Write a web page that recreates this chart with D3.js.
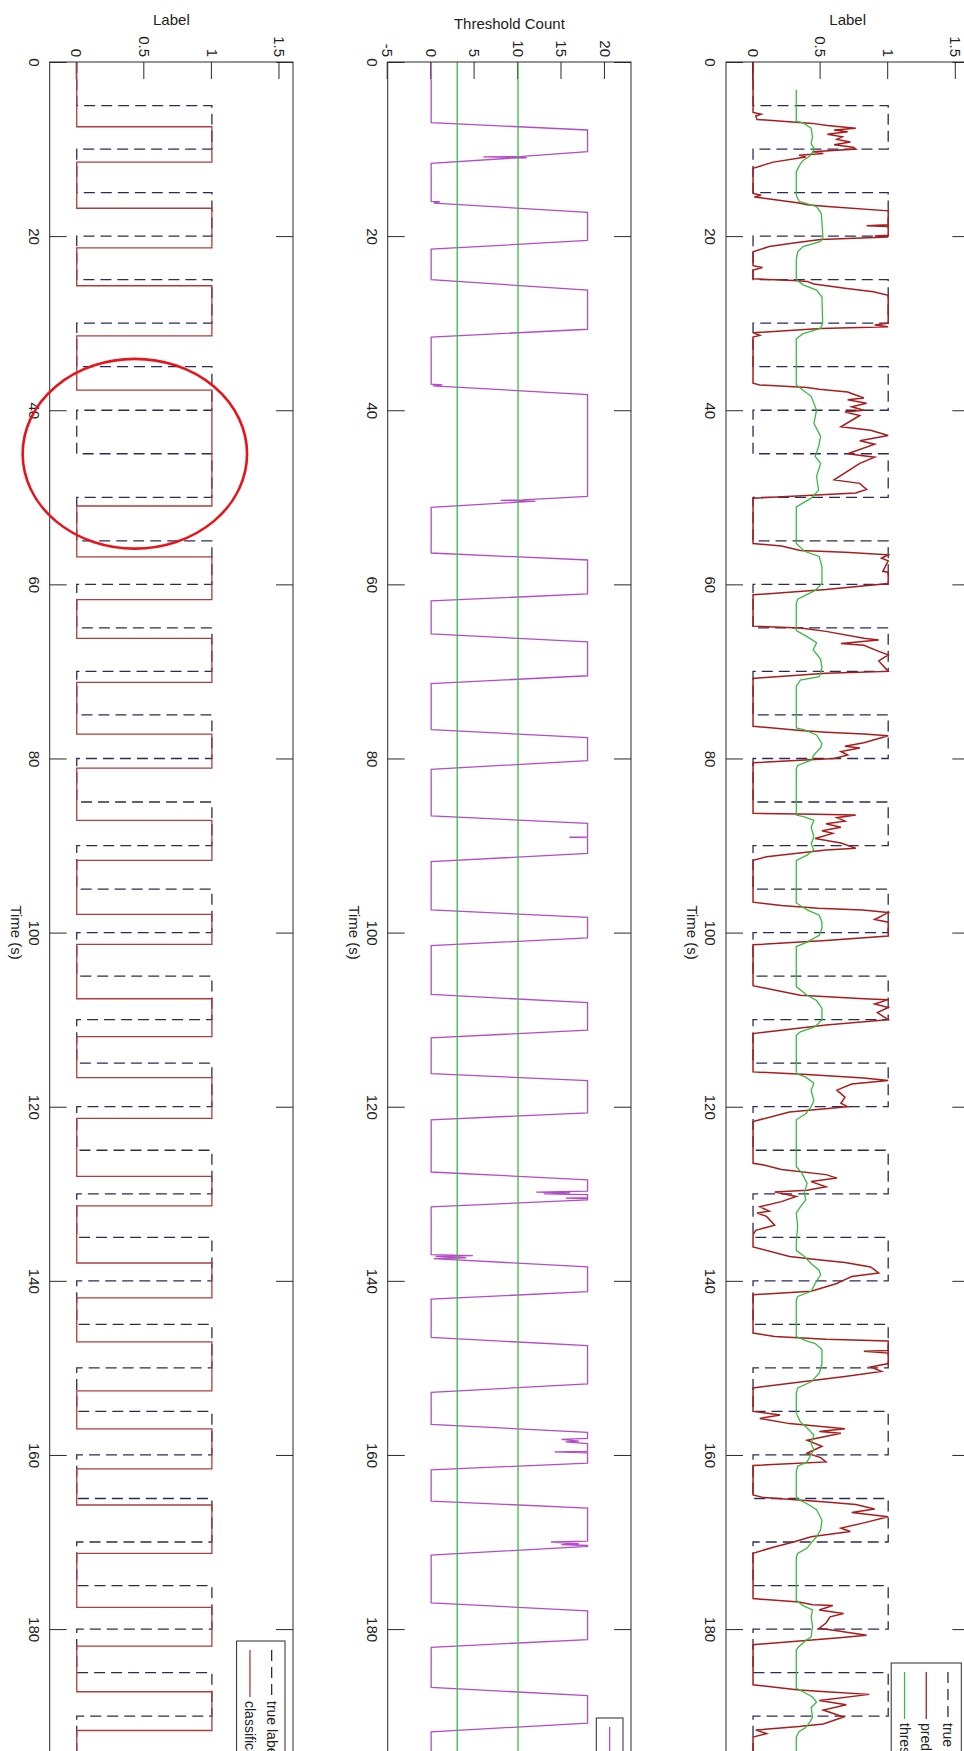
<!DOCTYPE html>
<meta charset="utf-8">
<title>Label / Threshold Count</title>
<style>
    body { margin: 0; background: #fff; }
    svg { display: block; font-family: "Liberation Sans", Arial, Helvetica, sans-serif; }
    .box { fill: none; stroke: #2a2a2a; stroke-width: 1px; }
    .tick line { stroke: #2a2a2a; }
    .tick text, .lab { fill: #222; font-size: 15px; }
</style>
<body>
<script src="https://cdn.jsdelivr.net/npm/d3@7"></script>
<script>
    // time axis
    const timeDomain = [0, 200];
    const timeTicks = [0, 20, 40, 60, 80, 100, 120, 140, 160, 180, 200];
    const labelTicks = [0, 0.5, 1, 1.5];
    const countTicks = [-5, 0, 5, 10, 15, 20];
    const countThresholds = [3, 10];

    // [time, value]
    const trueLabel = [[0,0],[5,1],[10,0],[15,1],[20,0],[25,1],[30,0],[35,1],[40,0],[45,1],[50,0],[55,1],[60,0],[65,1],[70,0],[75,1],[80,0],[85,1],[90,0],[95,1],[100,0],[105,1],[110,0],[115,1],[120,0],[125,1],[130,0],[135,1],[140,0],[145,1],[150,0],[155,1],[160,0],[165,1],[170,0],[175,1],[180,0],[185,1],[190,0],[195,1],[200,1]];

    const classification = [[0,0],[7.44,1],[11.5,0],[16.8,1],[21.35,0],[25.7,1],[31.45,0],[37.7,1],[51.0,0],[56.85,1],[61.75,0],[66.2,1],[71.25,0],[77.2,1],[81.1,0],[87.1,1],[91.7,0],[97.9,1],[101.35,0],[107.6,1],[111.95,0],[116.65,1],[121.35,0],[128.0,1],[131.4,0],[137.95,1],[141.95,0],[147.0,1],[152.65,0],[157.0,1],[161.6,0],[165.75,1],[171.3,0],[177.5,1],[181.95,0],[187.2,1],[191.65,0],[200,0]];

    const prediction = [
        [0,0],[5.8,0],[6.0,0.06],[6.2,0.02],[6.6,0.03],[7.05,0.44],[7.3,0.55],[7.6,0.76],[7.8,0.6],[8.0,0.7],[8.3,0.55],[8.6,0.66],[8.9,0.62],[9.2,0.72],[9.5,0.6],[9.8,0.74],[10.0,0.76],[10.3,0.44],[10.5,0.52],[10.7,0.34],[10.9,0.39],[11.5,0.15],[12.2,0],
        [15.1,0],[15.3,0.06],[15.5,0.01],[15.8,0.15],[16.2,0.34],[16.4,0.4],[16.6,0.55],[17.1,1],[18.7,1],[18.8,0.84],[18.9,1],[19.9,1],[20.0,0.9],[20.1,1],[20.4,0.5],[20.8,0.3],[21.2,0.12],[21.8,0],
        [23.4,0],[23.6,0.07],[23.9,0],[24.9,0],[25.1,0.3],[25.2,0.4],[25.5,0.45],[26.0,0.68],[26.4,0.89],[26.8,1],[30.0,1],[30.2,0.9],[30.4,1],[30.6,0.5],[31.1,0],[31.4,0.05],[31.6,0],
        [36.9,0],[37.1,0.05],[37.4,0.4],[37.6,0.49],[37.9,0.7],[38.6,0.82],[38.8,0.7],[39.2,0.84],[39.6,0.73],[40.0,0.82],[40.2,0.68],[40.6,0.79],[41.9,0.65],[42.3,0.87],[42.9,1],[43.5,0.79],[43.9,0.9],[45.0,0.7],[45.4,0.9],[46.1,0.79],[48.0,0.6],[48.4,0.79],[49.1,0.84],[49.5,0.76],[49.8,0.4],[50.1,0],
        [55.3,0],[55.6,0.21],[56.1,0.35],[56.3,0.68],[56.6,1],[57.0,0.95],[57.3,1],[58.5,0.96],[58.6,1],[59.9,1],[60.6,0.54],[61.2,0],
        [64.8,0],[65.0,0.35],[65.4,0.54],[66.2,0.82],[66.4,0.93],[66.8,0.65],[67.0,0.82],[67.7,0.93],[68.1,1],[68.8,0.93],[70.0,1],[70.2,0.54],[70.8,0],
        [76.0,0],[76.3,0],[76.8,0.35],[77.0,0.54],[77.2,0.82],[77.4,1],[78.2,0.82],[78.6,0.68],[78.8,0.79],[79.2,0.65],[79.6,0.7],[80.0,0.6],[80.2,0.35],[80.5,0],
        [86.3,0],[86.4,0.46],[86.5,0.76],[86.8,0.62],[87.2,0.68],[87.5,0.54],[87.9,0.65],[88.3,0.51],[88.6,0.59],[89.2,0.46],[89.7,0.65],[90.3,0.76],[90.5,0.54],[91.3,0.1],[91.7,0],
        [96.5,0],[96.9,0.21],[97.2,0.48],[97.4,0.81],[97.7,1],[98.5,0.9],[98.8,1],[100.4,1],[100.9,0.54],[101.4,0],
        [106.1,0],[107.2,0.35],[107.6,0.82],[107.7,1],[108.2,0.9],[108.6,1],[109.2,0.92],[110.0,1],[110.6,0.54],[111.6,0],
        [116.0,0],[116.3,0.4],[116.7,0.82],[117.0,1],[117.4,0.73],[118.1,0.62],[118.9,0.68],[119.6,0.65],[120.0,0.7],[120.6,0.27],[121.7,0],
        [126.5,0],[126.7,0.08],[127.2,0.21],[127.8,0.54],[128.2,0.62],[128.6,0.43],[129.2,0.54],[129.6,0.4],[129.8,0.16],[130.3,0.32],[130.9,0.21],[131.5,0.05],[132.0,0.12],[132.2,0.03],[132.6,0.1],[133.6,0.16],[134.2,0.02],[134.7,0],
        [136.1,0],[137.2,0.27],[137.6,0.5],[137.9,0.68],[138.4,0.87],[139.1,0.93],[139.5,0.73],[140.0,0.66],[140.3,0.62],[141.2,0.43],[141.6,0],
        [146.0,0],[146.4,0.16],[146.7,0.54],[146.9,1],[148.0,1],[148.1,0.82],[148.3,1],[149.5,1],[149.9,0.87],[150.4,0.95],[151.0,0.68],[152.3,0],
        [155.0,0],[155.4,0.2],[155.8,0.05],[156.4,0.27],[157.0,0.68],[157.3,0.49],[157.5,0.65],[158.3,0.4],[159.0,0.51],[159.8,0.4],[160.3,0.5],[160.8,0.54],[161.2,0],
        [164.6,0],[164.9,0.08],[165.4,0.54],[165.7,0.76],[166.2,0.9],[166.6,0.73],[167.1,1],[167.8,0.82],[168.4,0.65],[168.8,0.72],[169.4,0.43],[170.0,0.3],[170.6,0.15],[171.3,0],
        [176.5,0],[176.9,0.34],[177.2,0.44],[177.3,0.59],[177.8,0.49],[178.2,0.67],[178.6,0.57],[179.3,0.54],[179.9,0.49],[180.2,0.62],[180.7,0.84],[181.0,0.64],[181.3,0.39],[181.8,0],
        [186.4,0],[187.0,0.34],[187.2,0.54],[187.5,0.86],[188.2,0.49],[188.7,0.69],[189.3,0.52],[190.1,0.67],[190.9,0.52],[191.2,0.34],[191.6,0.02],[192.0,0.1],[192.4,0],[200,0]
    ];

    const threshold = [
        [3.2,0.32],[6.8,0.32],[7.0,0.37],[7.6,0.43],[8.6,0.44],[9.4,0.43],[10.0,0.455],[10.8,0.42],[11.3,0.37],[11.7,0.35],[12.6,0.32],
        [15.3,0.32],[16.0,0.34],[16.6,0.47],[17.4,0.505],[20.1,0.517],[20.6,0.5],[21.2,0.37],[21.8,0.33],[22.7,0.32],
        [25.0,0.32],[25.6,0.37],[26.2,0.47],[27.0,0.51],[30.0,0.515],[30.6,0.5],[31.2,0.37],[31.8,0.32],
        [37.1,0.32],[37.6,0.36],[38.4,0.43],[40.0,0.47],[41.5,0.45],[43.0,0.5],[44.2,0.485],[45.3,0.46],[46.1,0.5],[47.6,0.47],[49.2,0.485],[50.1,0.43],[51.1,0.32],
        [55.3,0.32],[56.2,0.38],[56.8,0.49],[58.0,0.51],[59.9,0.51],[60.7,0.46],[61.7,0.33],[62.2,0.32],
        [65.3,0.32],[66.0,0.4],[66.7,0.47],[67.5,0.445],[68.6,0.5],[69.6,0.51],[70.6,0.49],[71.0,0.35],[71.7,0.32],
        [76.5,0.32],[76.7,0.38],[77.3,0.47],[78.3,0.51],[78.8,0.5],[79.6,0.45],[80.2,0.43],[80.8,0.33],[81.2,0.32],
        [86.5,0.32],[86.7,0.38],[87.1,0.45],[87.9,0.43],[89.0,0.45],[89.8,0.43],[90.5,0.45],[91.1,0.4],[91.7,0.32],
        [96.6,0.32],[97.4,0.4],[98.0,0.49],[98.8,0.51],[99.5,0.51],[100.3,0.49],[101.1,0.4],[101.6,0.32],
        [106.2,0.32],[107.2,0.4],[107.8,0.47],[108.7,0.51],[110.0,0.51],[110.8,0.46],[111.4,0.35],[111.8,0.32],
        [116.2,0.32],[116.6,0.39],[117.3,0.45],[118.1,0.43],[119.3,0.45],[120.0,0.43],[120.8,0.39],[121.5,0.32],
        [126.9,0.32],[127.6,0.36],[128.8,0.4],[129.9,0.38],[130.7,0.39],[131.5,0.35],[132.2,0.32],[133.7,0.33],[135.7,0.32],
        [136.5,0.32],[137.2,0.38],[138.0,0.43],[138.8,0.49],[139.3,0.5],[140.3,0.46],[141.2,0.43],[141.8,0.33],[142.2,0.32],
        [146.4,0.32],[146.8,0.38],[147.2,0.46],[147.9,0.51],[149.5,0.51],[150.6,0.49],[151.6,0.43],[152.3,0.33],[152.9,0.32],
        [155.2,0.32],[156.2,0.35],[156.9,0.4],[157.7,0.45],[158.7,0.43],[159.4,0.45],[160.2,0.42],[160.8,0.4],[161.3,0.33],[161.9,0.32],
        [165.0,0.32],[165.6,0.4],[166.3,0.47],[167.5,0.51],[168.6,0.5],[169.4,0.47],[170.1,0.43],[170.7,0.4],[171.3,0.33],[171.8,0.32],
        [176.7,0.32],[177.3,0.37],[177.8,0.44],[178.6,0.43],[179.7,0.44],[180.9,0.43],[181.3,0.39],[182.0,0.34],[182.4,0.32],
        [186.8,0.32],[187.2,0.37],[187.8,0.44],[188.4,0.47],[189.0,0.43],[190.1,0.44],[190.7,0.42],[191.3,0.39],[191.8,0.34],[192.4,0.32],[200,0.32]
    ];

    const count = [
        [0,0],[6.97,0],[7.81,18],[10.3,18],[10.85,10.5],[10.9,6],[11.0,11],[11.05,9.2],[11.64,0],
        [16.0,0],[16.05,1],[16.2,0.3],[17.27,18],[20.5,18],[21.5,0],
        [25.0,0],[26.2,18],[30.7,18],[31.6,0],
        [37.0,0],[37.1,1.3],[37.2,0.2],[38.2,18],[49.9,18],[50.3,10.5],[50.35,8],[50.45,12],[51.15,0],
        [56.4,0],[57.2,18],[61.1,18],[61.9,0],
        [65.7,0],[66.6,18],[70.5,18],[71.4,0],
        [76.7,0],[77.6,18],[80.25,18],[81.25,0],
        [86.6,0],[87.45,18],[89.0,18],[89.05,15.9],[89.1,18],[90.9,18],[91.85,0],
        [97.4,0],[98.25,18],[100.6,18],[101.5,0],
        [107.1,0],[108.05,18],[111.2,18],[112.1,0],
        [116.2,0],[117.0,18],[120.7,18],[121.5,0],
        [127.5,0],[128.4,18],[129.7,18],[129.8,12.1],[129.9,16],[130.0,13],[130.1,18],[130.45,18],[130.5,15.5],[130.55,18],[130.7,18],[131.5,0],
        [137.0,0],[137.1,4.8],[137.2,0.5],[137.35,4],[137.45,0.3],[138.4,18],[141.25,18],[142.1,0],
        [146.5,0],[147.45,18],[151.85,18],[152.8,0],
        [156.5,0],[157.4,18],[158.1,18],[158.2,15],[158.4,17],[158.5,15.5],[158.7,18],[159.6,18],[159.65,14.2],[159.75,18],[160.95,18],[161.7,0],
        [165.3,0],[166.1,18],[169.9,18],[170.0,13.8],[170.2,17],[170.3,15],[170.4,18],[170.5,18],[171.5,0],
        [177.0,0],[177.9,18],[181.2,18],[182.1,0],
        [186.7,0],[187.65,18],[190.8,18],[191.8,0],[200,0]
    ];

    // red ring drawn over the bottom panel: centre time/value and half sizes
    const ring = {t: 45, v: 0.43, dt: 10.9, dv: 0.83};

    const width = 964, height = 1751;
    const ph = 243.3, tickLen = 17;

    const colors = {
        truth: "#2b2b58",
        classif: "#b03c3c",
        pred: "#a81c1c",
        thresh: "#3cb843",
        count: "#b44cc9"
    };

    const svg = d3.select('body').append('svg')
        .attr('width', width)
        .attr('height', height);
    svg.append('rect').attr('width', width).attr('height', height).attr('fill', '#fff');

    // the picture is a MATLAB figure turned a quarter turn clockwise,
    // so lay it out the normal way (time along x) and rotate the group
    const fig = svg.append('g').attr('transform', `translate(${width},0) rotate(90)`);

    const x = d3.scaleLinear().domain(timeDomain).range([62, 1803.2]);

    const panels = [
        {top: -5.3, domain: [-0.2, 1.6], ticks: labelTicks, ylabel: 'Label', legendLeft: 1663,
         series: [
            {name: 'true label', data: trueLabel, color: colors.truth, dash: '11,6', step: true},
            {name: 'prediction', data: prediction, color: colors.pred, width: 1.5},
            {name: 'threshold', data: threshold, color: colors.thresh}
         ]},
        {top: 333, domain: [-5, 23], ticks: countTicks, ylabel: 'Threshold Count', legendLeft: 1718,
         series: [
            {name: 'count', data: count, color: colors.count}
         ], hlines: countThresholds},
        {top: 671, domain: [-0.2, 1.6], ticks: labelTicks, ylabel: 'Label', legendLeft: 1641,
         series: [
            {name: 'true label', data: trueLabel, color: colors.truth, dash: '11,6', step: true},
            {name: 'classification', data: classification, color: colors.classif, step: true}
         ]}
    ];

    panels.forEach((p, i) => {
        const y = d3.scaleLinear().domain(p.domain).range([p.top + ph, p.top]);
        const g = fig.append('g');
        const x0 = x.range()[0], x1 = x.range()[1];

        g.append('g')
            .attr('transform', `translate(0,${p.top + ph})`)
            .call(d3.axisBottom(x).tickValues(timeTicks).tickSize(-tickLen).tickPadding(10).tickFormat(d3.format('d')));
        g.append('g')
            .attr('transform', `translate(0,${p.top})`)
            .call(d3.axisTop(x).tickValues(timeTicks).tickSize(-tickLen).tickFormat(''));
        const left = g.append('g')
            .attr('transform', `translate(${x0},0)`)
            .call(d3.axisLeft(y).tickValues(p.ticks).tickSize(-tickLen).tickPadding(5).tickFormat(d => String(d)));
        g.append('g')
            .attr('transform', `translate(${x1},0)`)
            .call(d3.axisRight(y).tickValues(p.ticks).tickSize(-tickLen).tickFormat(''));
        g.selectAll('.domain').remove();
        g.selectAll('.tick text').attr('font-size', null).attr('font-family', null);

        // data
        p.series.forEach(s => {
            const line = d3.line().x(d => x(d[0])).y(d => y(d[1]));
            if (s.step) line.curve(d3.curveStepAfter);
            g.append('path')
                .attr('d', line(s.data))
                .attr('fill', 'none')
                .attr('stroke', s.color)
                .attr('stroke-width', s.width || 1.3)
                .attr('stroke-dasharray', s.dash || null);
        });
        (p.hlines || []).forEach(v => {
            g.append('line')
                .attr('x1', x(timeDomain[0])).attr('x2', x(timeDomain[1]))
                .attr('y1', y(v)).attr('y2', y(v))
                .attr('stroke', colors.thresh)
                .attr('stroke-width', 1.3);
        });

        g.append('rect').attr('class', 'box')
            .attr('x', x0).attr('y', p.top)
            .attr('width', x1 - x0).attr('height', ph);

        // axis labels
        const tw = d3.max(left.selectAll('text').nodes(), n => n.getComputedTextLength());
        g.append('text').attr('class', 'lab')
            .attr('transform', `translate(${x0 - 5 - tw - 11},${p.top + ph / 2}) rotate(-90)`)
            .attr('text-anchor', 'middle')
            .text(p.ylabel);
        g.append('text').attr('class', 'lab')
            .attr('x', (x0 + x1) / 2)
            .attr('y', p.top + ph + 39)
            .attr('text-anchor', 'middle')
            .text('Time (s)');

        // legend, top right of each axes
        const lx = p.legendLeft, lx2 = x1 - 8, ly = p.top + 8;
        const lg = g.append('g');
        lg.append('rect')
            .attr('x', lx).attr('y', ly)
            .attr('width', lx2 - lx).attr('height', p.series.length * 21.7 + 5)
            .attr('fill', '#fff').attr('stroke', '#2a2a2a').attr('stroke-width', 1);
        p.series.forEach((s, k) => {
            const cy = ly + 13.35 + k * 21.7;
            lg.append('line')
                .attr('x1', lx + 9).attr('x2', lx + 56)
                .attr('y1', cy).attr('y2', cy)
                .attr('stroke', s.color).attr('stroke-width', 1.3)
                .attr('stroke-dasharray', s.dash || null);
            lg.append('text').attr('class', 'lab')
                .attr('x', lx + 60).attr('y', cy).attr('dy', '0.35em')
                .style('font-size', '14px')
                .text(s.name);
        });

        if (i === 2) {
            g.append('ellipse')
                .attr('cx', x(ring.t)).attr('cy', y(ring.v))
                .attr('rx', x(ring.t + ring.dt) - x(ring.t))
                .attr('ry', y(ring.v - ring.dv) - y(ring.v))
                .attr('fill', 'none')
                .attr('stroke', '#e8141a')
                .attr('stroke-width', 2.6);
        }
    });
</script>
</body>
